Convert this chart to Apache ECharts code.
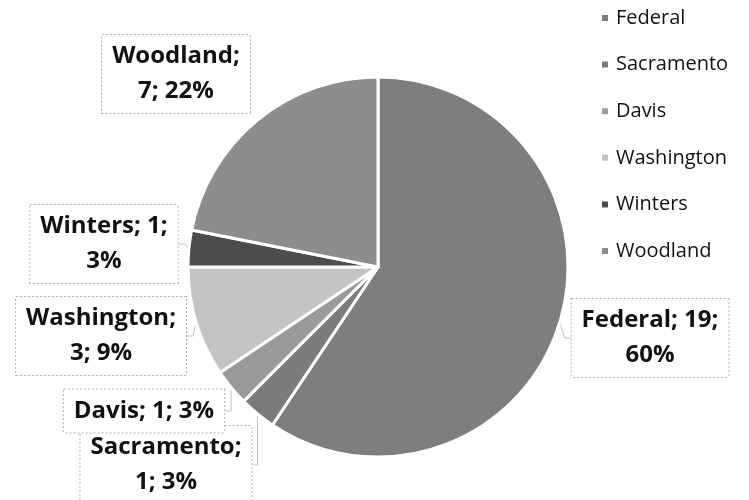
<!DOCTYPE html>
<html>
<head>
<meta charset="utf-8">
<script src="https://cdn.jsdelivr.net/npm/echarts@6/dist/echarts.min.js"></script>
<style>
  html, body { margin: 0; padding: 0; background: #fff; }
  #chart { width: 749px; height: 500px; }
</style>
</head>
<body>
<div id="chart"></div>
<script>
// 数据
const categories = ["Federal", "Sacramento", "Davis", "Washington", "Winters", "Woodland"];
const values = [19, 1, 1, 3, 1, 7];
const percentLabels = ["60%", "3%", "3%", "9%", "3%", "22%"];
// label text as in the picture ("name; value; percent", wrapped)
const labelTexts = [
  "Federal; 19;\n" + percentLabels[0],
  "Sacramento;\n1; " + percentLabels[1],
  "Davis; 1; " + percentLabels[2],
  "Washington;\n3; " + percentLabels[3],
  "Winters; 1;\n" + percentLabels[4],
  "Woodland;\n7; " + percentLabels[5]
];

const sliceColors = ["#7e7e7e", "#7b7b7b", "#9a9a9a", "#c3c3c3", "#4c4c4c", "#8d8d8d"];
// label box centers (px)
const labelPos = [
  [650, 338],
  [166, 465],
  [144, 411],
  [101, 336],
  [104, 244],
  [176, 74]
];

const myChart = echarts.init(document.getElementById("chart"));

const option = {
  backgroundColor: "#ffffff",
  textStyle: { fontFamily: "Open Sans" },
  legend: {
    orient: "vertical",
    left: 600,
    top: 8,
    padding: 0,
    itemWidth: 8,
    itemHeight: 8,
    itemGap: 26.6,
    icon: "rect",
    data: categories,
    textStyle: {
      fontFamily: "Open Sans",
      fontSize: 20,
      color: "#111",
      padding: [0, 0, 0, 2]
    }
  },
  series: [
    {
      type: "pie",
      center: [378, 267],
      radius: 190,
      startAngle: 90,
      clockwise: true,
      avoidLabelOverlap: false,
      data: categories.map((name, i) => ({
        name: name,
        value: values[i],
        itemStyle: { color: sliceColors[i] },
        labelLine: { show: name !== "Woodland" }
      })),
      itemStyle: {
        borderColor: "#ffffff",
        borderWidth: 3
      },
      label: {
        show: true,
        position: "outside",
        formatter: (p) => labelTexts[p.dataIndex],
        fontFamily: "Open Sans",
        fontWeight: "bold",
        fontSize: 24,
        lineHeight: 35,
        color: "#111",
        align: "center",
        backgroundColor: "#ffffff",
        borderColor: "#b0b0b0",
        borderWidth: 1,
        borderType: "dotted",
        padding: [4, 10, 4, 10]
      },
      labelLine: {
        show: true,
        length: 6,
        length2: 6,
        smooth: false,
        lineStyle: { color: "#c0c0c0", width: 1 }
      },
      labelLayout: function (params) {
        const p = labelPos[params.dataIndex];
        return {
          x: p[0],
          y: p[1],
          align: "center",
          verticalAlign: "middle"
        };
      },
      emphasis: { disabled: true }
    }
  ]
};

myChart.setOption(option);
window.addEventListener("resize", function () {
  myChart.resize();
});
</script>
</body>
</html>
